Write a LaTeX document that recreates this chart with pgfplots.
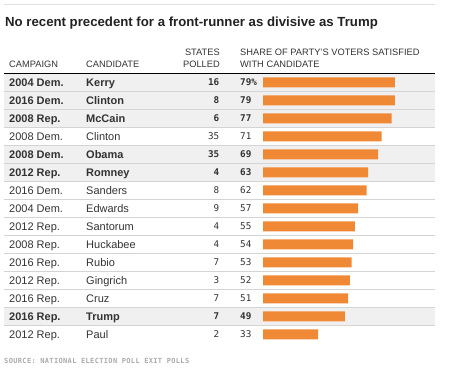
\documentclass[border=0pt]{standalone}
\usepackage{pgfplots}
\pgfplotsset{compat=1.18}
\usepackage{fontspec}
\setmainfont{Liberation Sans}
\newfontfamily\numfont{DejaVu Sans Mono}
\newfontfamily\numbf{DejaVu Sans Mono Bold}
\newfontfamily\srcfont[LetterSpace=5]{DejaVu Sans Mono Bold}
\definecolor{barorange}{RGB}{240,137,53}
\definecolor{rowshade}{RGB}{240,240,240}
\definecolor{sepline}{RGB}{212,212,212}
\definecolor{txt}{RGB}{51,51,51}
\definecolor{titlec}{RGB}{34,34,34}
\definecolor{srcgray}{RGB}{170,170,170}
\begin{document}
\begin{tikzpicture}
\useasboundingbox (0,0) rectangle (450pt,380pt);
\begin{scope}[x=1pt,y=-1pt,shift={(0,380pt)}]
\draw[black!12,line width=0.8pt] (4,4) -- (435,4);
\foreach \i in {0,1,2,4,5,13} \fill[rowshade] (4,{73.3+18*\i}) rectangle (435,{91.3+18*\i});
\foreach \i in {1,...,14} \draw[sepline,line width=0.8pt] (4,{73.3+18*\i}) -- (435,{73.3+18*\i});
\draw[black,line width=1pt] (4,73.3) -- (435,73.3);
\end{scope}
\begin{axis}[at={(0,0)},anchor=south west,width=450pt,height=380pt,scale only axis,hide axis,clip=false,
  xmin=-157.485,xmax=111.976,ymin=0,ymax=380,y dir=reverse]
\addplot[xbar,bar width=10pt,fill=barorange,draw=none] coordinates {
(79,82.3) (79,100.3) (77,118.3) (71,136.3) (69,154.3) (63,172.3) (62,190.3) (57,208.3)
(55,226.3) (54,244.3) (53,262.3) (52,280.3) (51,298.3) (49,316.3) (33,334.3)};
\end{axis}
\begin{scope}[x=1pt,y=-1pt,shift={(0,380pt)}]
\node[anchor=base west,inner sep=0,text=titlec,font=\bfseries\fontsize{13.2}{15}\selectfont] at (5,26.5) {No recent precedent for a front-runner as divisive as Trump};
\begin{scope}[every node/.style={inner sep=0,text=txt,font=\fontsize{9.3}{11}\selectfont}]
\node[anchor=base west] at (9,67.7) {CAMPAIGN};
\node[anchor=base west] at (86,67.7) {CANDIDATE};
\node[anchor=base east] at (220,56) {STATES};
\node[anchor=base east] at (220,67.7) {POLLED};
\node[anchor=base west] at (240,56) {SHARE OF PARTY'S VOTERS SATISFIED};
\node[anchor=base west] at (240,67.7) {WITH CANDIDATE};
\end{scope}
\foreach \camp/\cand/\st/\pct/\b [count=\i from 0] in {
2004 Dem./Kerry/16/79\%/1,
2016 Dem./Clinton/8/79/1,
2008 Rep./McCain/6/77/1,
2008 Dem./Clinton/35/71/0,
2008 Dem./Obama/35/69/1,
2012 Rep./Romney/4/63/1,
2016 Dem./Sanders/8/62/0,
2004 Dem./Edwards/9/57/0,
2012 Rep./Santorum/4/55/0,
2008 Rep./Huckabee/4/54/0,
2016 Rep./Rubio/7/53/0,
2012 Rep./Gingrich/3/52/0,
2016 Rep./Cruz/7/51/0,
2016 Rep./Trump/7/49/1,
2012 Rep./Paul/2/33/0}{
  \pgfmathsetmacro\yy{82.3+18*\i+3.8}
  \ifnum\b=1 \def\rf{\bfseries}\def\nf{\numbf}\else\def\rf{}\def\nf{\numfont}\fi
  \node[anchor=base west,inner sep=0,text=txt,font=\rf\fontsize{11}{13}\selectfont] at (9,\yy) {\camp};
  \node[anchor=base west,inner sep=0,text=txt,font=\rf\fontsize{11}{13}\selectfont] at (86,\yy) {\cand};
  \node[anchor=base east,inner sep=0,text=txt,font=\nf\fontsize{9.3}{11}\selectfont] at (219.5,{\yy-0.3}) {\st};
  \node[anchor=base west,inner sep=0,text=txt,font=\nf\fontsize{9.3}{11}\selectfont] at (240,{\yy-0.3}) {\pct};
}
\node[anchor=base west,inner sep=0,text=srcgray,font=\srcfont\fontsize{7}{9}\selectfont] at (4,364) {SOURCE: NATIONAL ELECTION POLL EXIT POLLS};
\end{scope}
\end{tikzpicture}
\end{document}
